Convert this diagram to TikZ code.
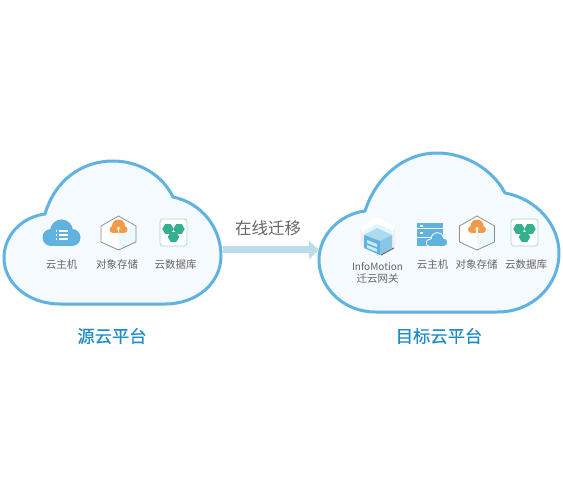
\documentclass[tikz,border=0pt]{standalone}
\usepackage{fontspec}
\setmainfont{Noto Sans CJK SC}
\newfontfamily\titlefont[FakeBold=0.4]{Noto Sans CJK SC}
\usepackage{xcolor}
\usetikzlibrary{arrows.meta, positioning}
\definecolor{cloudblue}{RGB}{95, 179, 222}
\definecolor{cloudfill}{RGB}{244, 250, 253}
\definecolor{flowblue}{RGB}{187, 220, 234}
\definecolor{titleblue}{RGB}{30, 140, 200}
\definecolor{textgray}{RGB}{102, 102, 102}
\definecolor{coreorange}{RGB}{243, 154, 72}
\definecolor{hexgreen}{RGB}{53, 176, 143}

\begin{document}
\begin{tikzpicture}[
  x=1pt, y=-1pt,
  node distance=16pt,
  cloudshape/.style={draw=cloudblue, fill=cloudfill, line width=3pt, line join=round},
  applabel/.style={font=\fontsize{10.5}{12.5}\selectfont, text=textgray, inner sep=0pt, align=center},
  title/.style={font=\titlefont\fontsize{17.3}{20}\selectfont, text=titleblue, inner sep=0pt},
  flowlabel/.style={font=\fontsize{16.5}{20}\selectfont, text=textgray, inner sep=0pt},
  flow/.style={-{Triangle[length=10pt, width=18pt]}, line width=7pt, color=flowblue},
  bluecloud/.pic={
    \fill[cloudblue] (0,-2) circle (11.5);
    \fill[cloudblue] (-10.5,4.5) circle (8.5);
    \fill[cloudblue] (10.5,4.5) circle (8.5);
    \fill[cloudblue] (-10.5,0) rectangle (10.5,13);
    \foreach \rowy in {-2,2,6} {
      \fill[white] (-6,\rowy-1) rectangle (-4.5,\rowy+1);
      \fill[white] (-3,\rowy-1) rectangle (6,\rowy+1);
    }
  },
  hexicon/.pic={
    \fill[white] (0,-17) -- (17.5,-7) -- (17.5,9) -- (0,17) -- (-17.5,9) -- (-17.5,-7) -- cycle;
    \fill[blue!30!cyan!8] (0,-1) -- (17.5,-7) -- (17.5,9) -- (0,17) -- cycle;
    \draw[gray!90, line width=0.8pt, line join=round]
      (0,-17) -- (17.5,-7) -- (17.5,9) -- (0,17) -- (-17.5,9) -- (-17.5,-7) -- cycle;
    \fill[coreorange] (0,-7) circle (6.5);
    \fill[coreorange] (-5.5,-3.5) circle (3.5);
    \fill[coreorange] (5.5,-3.5) circle (3.5);
    \fill[coreorange] (-5.5,-7) rectangle (5.5,0);
    \fill[white] (-0.7,0) rectangle (0.7,-4);
    \fill[white] (-2.2,-3.5) -- (0,-6.5) -- (2.2,-3.5) -- cycle;
  },
  dbicon/.pic={
    \draw[draw=hexgreen!45, fill=white, line width=0.8pt, rounded corners=3pt] (-13.5,-13.5) rectangle (13.5,13.5);
    \foreach \hx/\hy in {-5.5/-3.5, 5.5/-3.5, 0/4.5} {
      \fill[hexgreen] (\hx+5.7,\hy) -- (\hx+2.85,\hy+4.9) -- (\hx-2.85,\hy+4.9)
        -- (\hx-5.7,\hy) -- (\hx-2.85,\hy-4.9) -- (\hx+2.85,\hy-4.9) -- cycle;
    }
  }
]
  \useasboundingbox (0,0) rectangle (563,500);
  \fill[white] (0,0) rectangle (563,500);

  % clouds
  \path[cloudshape] (45,214) .. controls (55,180) and (82,161) .. (113,161)
    .. controls (140,161) and (163,176) .. (173,197)
    .. controls (202,203) and (221,228) .. (221,256)
    .. controls (221,283) and (197,304) .. (165,304) -- (60,304)
    .. controls (28,304) and (4,283) .. (4,258)
    .. controls (4,235) and (22,217) .. (45,214) -- cycle;
  \path[cloudshape] (365,211) .. controls (376,177) and (404,153) .. (437,153)
    .. controls (466,153) and (493,170) .. (505,193)
    .. controls (537,199) and (559,225) .. (559,253)
    .. controls (559,286) and (532,312) .. (498,312) -- (375,312)
    .. controls (343,312) and (319,287) .. (319,260)
    .. controls (319,235) and (340,214) .. (365,211) -- cycle;

  % arrow between clouds
  \coordinate (srcport) at (223,250);
  \coordinate (dstport) at (319,250);
  \draw[flow] (srcport) -- (dstport);
  \node[flowlabel] (move) at (268,228) {在线迁移};

  % source platform
  \pic at (61.5,233) {bluecloud};
  \pic at (118.5,233) {hexicon};
  \pic at (173.5,232.5) {dbicon};
  \node[applabel] (srcvm) at (61.5,264.5) {云主机};
  \node[applabel, right=18.5pt of srcvm] (srcobj) {对象存储};
  \node[applabel, right=16pt of srcobj] (srcdb) {云数据库};
  \node[title] (srctitle) at (112,336) {源云平台};

  % migration gateway
  \fill[gray!12] (377,217) -- (360,227) -- (361,246) -- (380,257) -- (395,247) -- (395,226) -- cycle;
  \fill[white] (377,217) -- (360,227) -- (364,235) -- (380,241) -- (392,235) -- (395,226) -- cycle;
  \fill[blue!25!cyan!12] (364,231) -- (377,224) -- (392,231) -- (392,235) -- (364,235) -- cycle;
  \fill[cloudblue!50] (364,235) -- (377,228) -- (392,235) -- (380,241) -- cycle;
  \fill[cloudblue] (364,235) -- (380,241) -- (380,255) -- (364,248) -- cycle;
  \fill[cloudblue!75] (380,241) -- (392,235) -- (392,248) -- (380,255) -- cycle;
  \fill[white!70!cloudblue] (367,240) -- (377,244) -- (377,247) -- (367,243) -- cycle;
  \fill[white!70!cloudblue] (367,245) -- (377,249) -- (377,252) -- (367,248) -- cycle;
  \draw[gray!80!black, line width=1pt] (381,255) -- (394,248);

  % target platform
  \fill[cloudblue] (417,223) rectangle (442.5,228.5);
  \fill[cloudblue] (417,229.5) rectangle (442.5,237);
  \fill[cloudblue] (417,238) rectangle (432,246);
  \fill[white] (420,225) rectangle (422.5,227);
  \fill[white] (420,232) rectangle (422.5,234.5);
  \fill[cloudblue, draw=white, line width=0.8pt] (429,246.5) .. controls (425,245) and (425,239) .. (431,239)
    .. controls (432,230.5) and (442,230.5) .. (443.5,238)
    .. controls (449,238) and (449,246.5) .. (444,246.5) -- cycle;
  \pic at (477,233) {hexicon};
  \pic at (524.5,232.5) {dbicon};
  \node[applabel, font=\fontsize{10}{12.5}\selectfont] (gate) at (377.5,273) {InfoMotion\\\fontsize{10.5}{12.5}\selectfont 迁云网关};
  \node[applabel] (dstvm) at (432.5,264.5) {云主机};
  \node[applabel, right=7pt of dstvm] (dstobj) {对象存储};
  \node[applabel, right=7pt of dstobj] (dstdb) {云数据库};
  \node[title] (dsttitle) at (439,336) {目标云平台};

\end{tikzpicture}
\end{document}
